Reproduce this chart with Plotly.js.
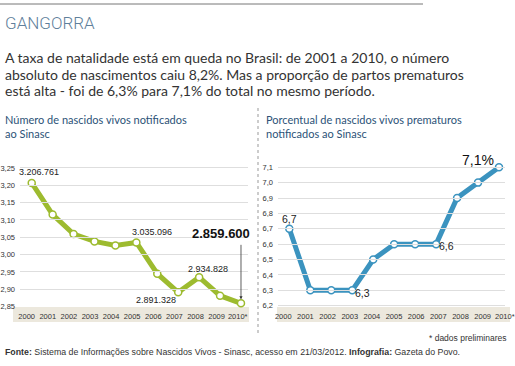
<!DOCTYPE html>
<html>
<head>
<meta charset="utf-8">
<script src="https://cdn.plot.ly/plotly-3.0.1.min.js"></script>
<style>
html,body{margin:0;padding:0;background:#fff;}
#chart{width:515px;height:366px;}
</style>
</head>
<body>
<div id="chart"></div>
<script>
// ---- data ----
const years = [2000, 2001, 2002, 2003, 2004, 2005, 2006, 2007, 2008, 2009, 2010];
const yearLabels = ['2000', '2001', '2002', '2003', '2004', '2005', '2006', '2007', '2008', '2009', '2010*'];
const births = [3206761, 3115474, 3059402, 3038251, 3026548, 3035096, 2944928, 2891328, 2934828, 2881581, 2859600];
const pretermPct = [6.7, 6.3, 6.3, 6.3, 6.5, 6.6, 6.6, 6.6, 6.9, 7.0, 7.1];
const birthsTicks = [2.85, 2.90, 2.95, 3.00, 3.05, 3.10, 3.15, 3.20, 3.25];
const pctTicks = [6.2, 6.3, 6.4, 6.5, 6.6, 6.7, 6.8, 6.9, 7.0, 7.1];
const birthsLabelIdx = [0, 5, 7, 8];
const pctLabelIdx = [0, 3, 7];

const title = 'GANGORRA';
const intro = [
  'A taxa de natalidade está em queda no Brasil: de 2001 a 2010, o número',
  'absoluto de nascimentos caiu 8,2%. Mas a proporção de partos prematuros',
  'está alta - foi de 6,3% para 7,1% do total no mesmo período.'
];
const subLeft = ['Número de nascidos vivos notificados', 'ao Sinasc'];
const subRight = ['Porcentual de nascidos vivos prematuros', 'notificados ao Sinasc'];
const footNote = '* dados preliminares';
const source = '<b>Fonte:</b> Sistema de Informações sobre Nascidos Vivos - Sinasc, acesso em 21/03/2012. <b>Infografia:</b> Gazeta do Povo.';

// ---- helpers ----
const W = 515, H = 366;
const px = x => x / W;
const py = y => 1 - y / H;
const NARROW = '"Liberation Sans", Arial, sans-serif';
const BODY = 'Lato, "Open Sans", sans-serif';
const fmtThousands = v => String(v).replace(/\B(?=(\d{3})+(?!\d))/g, '.');
const fmtPct = v => v.toFixed(1).replace('.', ',');

const green = '#9dbb2f';
const blue = '#3b93bf';

const birthsM = births.map(v => v / 1e6);

const traces = [
  {
    x: years, y: birthsM, xaxis: 'x', yaxis: 'y', type: 'scatter', mode: 'lines+markers',
    line: {color: green, width: 5},
    marker: {size: 7, color: '#ffffff', line: {color: green, width: 1.5}},
    hoverinfo: 'skip', cliponaxis: false
  },
  {
    x: years, y: pretermPct, xaxis: 'x2', yaxis: 'y2', type: 'scatter', mode: 'lines+markers',
    line: {color: blue, width: 5},
    marker: {size: 7, color: '#ffffff', line: {color: blue, width: 1.5}},
    hoverinfo: 'skip', cliponaxis: false
  },
  // label-only axes for the year ticks
  {x: years, y: years.map(() => null), xaxis: 'x3', yaxis: 'y', type: 'scatter', mode: 'markers', hoverinfo: 'skip'},
  {x: years, y: years.map(() => null), xaxis: 'x4', yaxis: 'y2', type: 'scatter', mode: 'markers', hoverinfo: 'skip'}
];

const leftDom = [px(20), px(248)];
const rightDom = [px(278), px(505)];
const yDom = [py(307), py(160)];

const yTickFont = {family: NARROW, size: 7.5, color: '#333'};
const xTickFont = {family: NARROW, size: 7.5, color: '#333'};

const hiddenX = {showticklabels: false, showgrid: false, zeroline: false, showline: false, ticks: '', fixedrange: true};

const annotations = [];
// header
annotations.push({xref: 'paper', yref: 'paper', x: px(3), y: py(23), xanchor: 'left', yanchor: 'middle',
  text: title, showarrow: false, font: {family: 'Roboto, sans-serif', weight: 300, size: 17, color: '#5f7f9b'}});
intro.forEach((t, i) => annotations.push({xref: 'paper', yref: 'paper', x: px(3), y: py(57.5 + i * 16.5),
  xanchor: 'left', yanchor: 'middle', text: t, showarrow: false, font: {family: BODY, size: 14, color: '#333'}}));
subLeft.forEach((t, i) => annotations.push({xref: 'paper', yref: 'paper', x: px(3), y: py(119 + i * 14),
  xanchor: 'left', yanchor: 'middle', text: t, showarrow: false, font: {family: BODY, size: 11, color: '#2c5277'}}));
subRight.forEach((t, i) => annotations.push({xref: 'paper', yref: 'paper', x: px(264), y: py(119 + i * 14),
  xanchor: 'left', yanchor: 'middle', text: t, showarrow: false, font: {family: BODY, size: 11, color: '#2c5277'}}));
// footer
annotations.push({xref: 'paper', yref: 'paper', x: px(508), y: py(338), xanchor: 'right', yanchor: 'middle',
  text: footNote, showarrow: false, font: {family: NARROW, size: 8.5, color: '#333'}});
annotations.push({xref: 'paper', yref: 'paper', x: px(3), y: py(352), xanchor: 'left', yanchor: 'middle',
  text: source, showarrow: false, font: {family: NARROW, size: 8.8, color: '#333'}});

// data labels, left chart
const birthShifts = {0: [7, 11], 5: [16, 10], 7: [-22, -8], 8: [9, 8]};
birthsLabelIdx.forEach(i => annotations.push({xref: 'x', yref: 'y', x: years[i], y: birthsM[i],
  xshift: birthShifts[i][0], yshift: birthShifts[i][1], text: fmtThousands(births[i]), showarrow: false,
  font: {family: NARROW, size: 9, color: '#222'}}));
// highlighted last value
const last = births.length - 1;
annotations.push({xref: 'x', yref: 'y', x: years[last], y: birthsM[last], xshift: -20, yshift: 70,
  text: '<b>' + fmtThousands(births[last]) + '</b>', showarrow: false,
  font: {family: NARROW, size: 13, color: '#111'}});
annotations.push({xref: 'x', yref: 'y', x: years[last], y: birthsM[last], ax: 0, ay: -60,
  axref: 'pixel', ayref: 'pixel', text: '', showarrow: true, arrowhead: 2, arrowsize: 0.8,
  arrowwidth: 0.8, arrowcolor: '#333', standoff: 4});

// data labels, right chart
const pctShifts = {0: [0, 10], 3: [10, -3], 7: [10, -2]};
pctLabelIdx.forEach(i => annotations.push({xref: 'x2', yref: 'y2', x: years[i], y: pretermPct[i],
  xshift: pctShifts[i][0], yshift: pctShifts[i][1], text: fmtPct(pretermPct[i]), showarrow: false,
  font: {family: NARROW, size: 10.5, color: '#222'}}));
const lastP = pretermPct.length - 1;
annotations.push({xref: 'x2', yref: 'y2', x: years[lastP], y: pretermPct[lastP], xshift: -21, yshift: 7,
  text: fmtPct(pretermPct[lastP]) + '%', showarrow: false, font: {family: NARROW, size: 14, color: '#111'}});

const shapes = [
  // top rule
  {type: 'line', xref: 'paper', yref: 'paper', x0: 0, x1: px(423), y0: py(4), y1: py(4), line: {color: '#777', width: 1}},
  // beige bands behind year labels
  {type: 'rect', xref: 'paper', yref: 'paper', x0: px(13), x1: px(249), y0: py(322), y1: py(307), line: {width: 0}, fillcolor: '#ece8dd', layer: 'below'},
  {type: 'rect', xref: 'paper', yref: 'paper', x0: px(277), x1: px(510), y0: py(322), y1: py(307), line: {width: 0}, fillcolor: '#ece8dd', layer: 'below'},
  // separator
  {type: 'line', xref: 'paper', yref: 'paper', x0: px(258), x1: px(258), y0: py(108), y1: py(333), line: {color: '#999', width: 1, dash: 'dot'}}
];

const layout = {
  width: W, height: H,
  margin: {l: 0, r: 0, t: 0, b: 0, pad: 0},
  paper_bgcolor: '#ffffff', plot_bgcolor: 'rgba(0,0,0,0)',
  showlegend: false, separators: ',.',
  xaxis: Object.assign({domain: leftDom, anchor: 'y', range: [1999.44, 2010.335]}, hiddenX),
  yaxis: {domain: yDom, anchor: 'x', range: [2.849, 3.273], tickvals: birthsTicks, tickformat: '.2f',
    showgrid: true, gridcolor: '#dedede', gridwidth: 1, zeroline: false, showline: false, ticks: '',
    tickfont: yTickFont, ticklabelstandoff: 4, fixedrange: true},
  xaxis2: Object.assign({domain: rightDom, anchor: 'y2', range: [1999.46, 2010.286]}, hiddenX),
  yaxis2: {domain: yDom, anchor: 'x2', range: [6.1915, 7.147], tickvals: pctTicks, tickformat: '.1f',
    showgrid: true, gridcolor: '#dedede', gridwidth: 1, zeroline: false, showline: false, ticks: '',
    tickfont: yTickFont, ticklabelstandoff: 4, fixedrange: true},
  xaxis3: {domain: leftDom, anchor: 'y', range: [1999.683, 2010.488], tickvals: years, ticktext: yearLabels,
    tickangle: 0, showgrid: false, zeroline: false, showline: false, ticks: '', tickfont: xTickFont, ticklabelstandoff: 3, fixedrange: true},
  xaxis4: {domain: rightDom, anchor: 'y2', range: [1999.761, 2010.01], tickvals: years, ticktext: yearLabels,
    tickangle: 0, showgrid: false, zeroline: false, showline: false, ticks: '', tickfont: xTickFont, ticklabelstandoff: 3, fixedrange: true},
  annotations: annotations,
  shapes: shapes
};

Plotly.newPlot('chart', traces, layout, {displayModeBar: false, staticPlot: true});
</script>
</body>
</html>
